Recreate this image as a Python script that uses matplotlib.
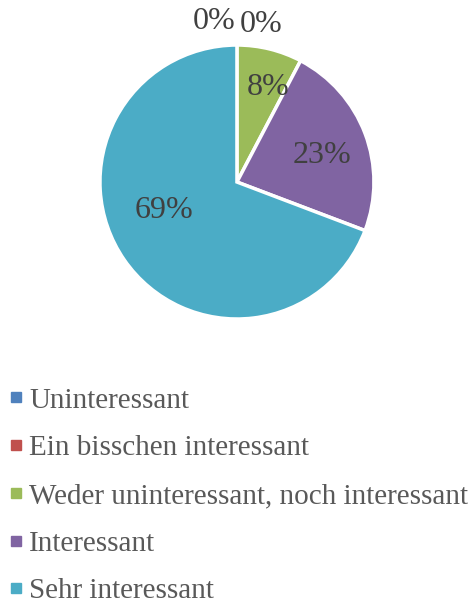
import matplotlib.pyplot as plt
from matplotlib.lines import Line2D

categories = ['Uninteressant', 'Ein bisschen interessant',
              'Weder uninteressant, noch interessant', 'Interessant',
              'Sehr interessant']
counts = [0, 0, 1, 3, 9]
pct_labels = ['0%', '0%', '8%', '23%', '69%']
colors = ['#4F81BD', '#C0504D', '#9BBB59', '#8064A2', '#4BACC6']

# label positions in pie units (radius = 1)
label_xy = [(-0.17, 1.17), (0.18, 1.15), (0.23, 0.69), (0.62, 0.19), (-0.53, -0.21)]

plt.rcParams['font.family'] = ['Liberation Serif', 'DejaVu Serif']
text_color = '#595959'

fig = plt.figure(figsize=(4.76, 6.05), dpi=100)
ax = fig.add_axes([0.210, 0.4727, 0.5756, 0.4529])
wedges, _ = ax.pie(counts, colors=colors, startangle=90, counterclock=False,
                   wedgeprops=dict(edgecolor='white', linewidth=2.5))
ax.set_xlim(-1, 1)
ax.set_ylim(-1, 1)
ax.set_aspect('equal')
ax.axis('off')

for lab, (x, y) in zip(pct_labels, label_xy):
    ax.text(x, y, lab, ha='center', va='center', fontsize=23,
            color='#404040', clip_on=False)

handles = [Line2D([], [], marker='s', linestyle='none', markersize=6.5,
                  markerfacecolor=c, markeredgecolor=c) for c in colors]
fig.legend(handles, categories, loc='upper left', bbox_to_anchor=(0.0, 0.372),
           frameon=False, fontsize=21, labelcolor=text_color,
           handlelength=0.6, handletextpad=0.15, labelspacing=0.73,
           borderaxespad=0, borderpad=0.25)

fig.savefig('out.png', dpi=100)
